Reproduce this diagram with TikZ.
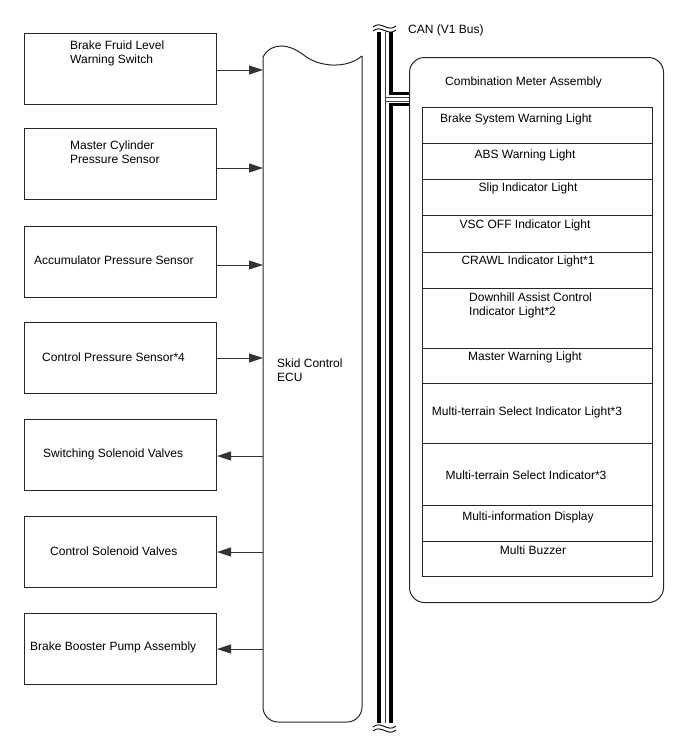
\documentclass[tikz,border=0pt]{standalone}
\usepackage{fontspec}
\setmainfont{Liberation Sans}
\usetikzlibrary{arrows.meta}
\begin{document}
\begin{tikzpicture}[x=1pt,y=-1pt,
  box/.style={draw=black!85,line width=1pt},
  lbox/.style={box,minimum width=192pt,minimum height=71pt,anchor=north west,inner sep=0pt},
  rowbox/.style={draw=black!85,line width=0.9pt,minimum width=230pt,anchor=north west,inner sep=0pt},
  lbl/.style={font=\fontsize{12}{14}\selectfont,inner sep=0pt,align=left},
  sig/.style={draw=black!80,line width=0.9pt,-{Triangle[length=14pt,width=9pt]}},
  wire/.style={line width=3.8pt,black},
  thinw/.style={line width=0.6pt,black!75}]
\useasboundingbox (0,0) rectangle (688,755);

% left boxes
\node[lbox] (b1) at (24,33) {};
\node[lbox] (b2) at (24,128) {};
\node[lbox] (b3) at (24,226) {};
\node[lbox] (b4) at (24,322) {};
\node[lbox] (b5) at (24,419) {};
\node[lbox] (b6) at (24,516) {};
\node[lbox] (b7) at (24,613) {};

\node[lbl,anchor=north west] (t1) at (70,41) {Brake Fruid Level\\Warning Switch};
\node[lbl,anchor=north west] (t2) at (70,141) {Master Cylinder\\Pressure Sensor};
\node[lbl,anchor=west] (t3) at (34,260) {Accumulator Pressure Sensor};
\node[lbl,anchor=west] (t4) at (42,357) {Control Pressure Sensor*4};
\node[lbl,anchor=west] (t5) at (43,454) {Switching Solenoid Valves};
\node[lbl,anchor=west] (t6) at (50,551) {Control Solenoid Valves};
\node[lbl,anchor=west] (t7) at (30,647) {Brake Booster Pump Assembly};

% ECU
\coordinate (ecuL) at (263,0);
\draw[box] (263,57) .. controls (272,41) and (290,44) .. (305,56) .. controls (318,66) and (345,70) .. (362,56);
\draw[box,rounded corners=15pt] (263,57) -- (263,722) -- (362,722) -- (362,56);
\node[lbl,anchor=north west] (ecu) at (277,359) {Skid Control\\ECU};

% arrows
\draw[sig] (b1.east |- {(0,70)}) -- (ecuL |- {(0,70)});
\draw[sig] (b2.east |- {(0,168)}) -- (ecuL |- {(0,168)});
\draw[sig] (b3.east |- {(0,265)}) -- (ecuL |- {(0,265)});
\draw[sig] (b4.east |- {(0,358)}) -- (ecuL |- {(0,358)});
\draw[sig] (ecuL |- {(0,456)}) -- (b5.east |- {(0,456)});
\draw[sig] (ecuL |- {(0,552)}) -- (b6.east |- {(0,552)});
\draw[sig] (ecuL |- {(0,649)}) -- (b7.east |- {(0,649)});

% CAN bus
\node[box,rounded corners=15pt,minimum width=254pt,minimum height=545pt,anchor=north west,inner sep=0pt] (cma) at (409,57) {};
\draw[wire] (379,32) -- (379,723);
\draw[thinw] (385,32) -- (385,723);
\draw[wire] (391,32) -- (391,93.5) -- (cma.west |- {(0,93.5)});
\draw[wire] (cma.west |- {(0,104.5)}) -- (391,104.5) -- (391,723);
\draw[thinw] (385,97) -- (cma.west |- {(0,97)});
\draw[thinw] (385,101) -- (cma.west |- {(0,101)});
\draw[line width=0.9pt] (373,27) .. controls (381,20) and (388,33) .. (396,26);
\draw[line width=0.9pt] (373,31) .. controls (381,24) and (388,37) .. (396,30);
\draw[line width=0.9pt] (373,727) .. controls (381,720) and (388,733) .. (396,726);
\draw[line width=0.9pt] (373,731) .. controls (381,724) and (388,737) .. (396,730);
\node[lbl,anchor=west] (can) at (408,30) {CAN (V1 Bus)};

% meter
\node[lbl,anchor=west] (cmat) at (445,82) {Combination Meter Assembly};
\node[rowbox,minimum height=36pt] (r1) at (422,107) {};
\node[rowbox,minimum height=36pt] (r2) at (422,143) {};
\node[rowbox,minimum height=36pt] (r3) at (422,179) {};
\node[rowbox,minimum height=37pt] (r4) at (422,215) {};
\node[rowbox,minimum height=36pt] (r5) at (422,252) {};
\node[rowbox,minimum height=60pt] (r6) at (422,288) {};
\node[rowbox,minimum height=35pt] (r7) at (422,348) {};
\node[rowbox,minimum height=60pt] (r8) at (422,383) {};
\node[rowbox,minimum height=62pt] (r9) at (422,443) {};
\node[rowbox,minimum height=36pt] (r10) at (422,505) {};
\node[rowbox,minimum height=35pt] (r11) at (422,541) {};

\node[lbl] (l1) at (516,119) {Brake System Warning Light};
\node[lbl] (l2) at (525,155) {ABS Warning Light};
\node[lbl] (l3) at (528,188) {Slip Indicator Light};
\node[lbl] (l4) at (525,225) {VSC OFF Indicator Light};
\node[lbl] (l5) at (528,261) {CRAWL Indicator Light*1};
\node[lbl,anchor=north west] (l6) at (469,293) {Downhill Assist Control\\Indicator Light*2};
\node[lbl] (l7) at (525,357) {Master Warning Light};
\node[lbl] (l8) at (527,412) {Multi-terrain Select Indicator Light*3};
\node[lbl] (l9) at (526,475) {Multi-terrain Select Indicator*3};
\node[lbl] (l10) at (528,517) {Multi-information Display};
\node[lbl] (l11) at (533,550) {Multi Buzzer};
\end{tikzpicture}
\end{document}
